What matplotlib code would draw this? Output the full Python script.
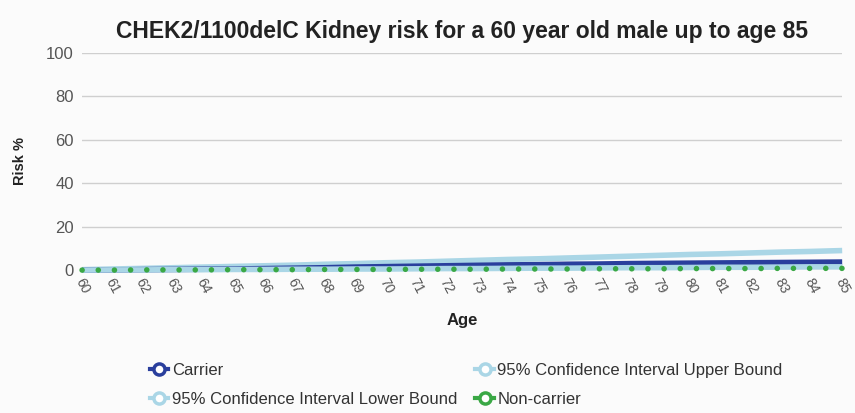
import numpy as np
import matplotlib.pyplot as plt
from matplotlib.lines import Line2D

plt.rcParams['font.family'] = ['Liberation Sans', 'DejaVu Sans']

ages = list(range(60, 86))
upper_bound = [0.2, 0.5, 0.8, 1.1, 1.4, 1.7, 2.0, 2.3, 2.7, 3.0, 3.4, 3.7, 4.1, 4.5, 4.9, 5.2,
               5.6, 6.0, 6.4, 6.8, 7.2, 7.5, 7.9, 8.3, 8.6, 9.0]
carrier = [0.0, 0.1, 0.2, 0.3, 0.4, 0.5, 0.7, 0.9, 1.1, 1.4, 1.6, 1.8, 2.0, 2.2, 2.4, 2.5,
           2.7, 2.8, 3.0, 3.1, 3.2, 3.3, 3.4, 3.5, 3.6, 3.7]
lower_bound = [0.0, 0.1, 0.1, 0.2, 0.2, 0.3, 0.3, 0.4, 0.4, 0.5, 0.5, 0.6, 0.7, 0.7, 0.8, 0.9,
               0.9, 1.0, 1.1, 1.1, 1.2, 1.3, 1.3, 1.4, 1.5, 1.5]
non_carrier = [0.0, 0.0, 0.1, 0.1, 0.1, 0.2, 0.2, 0.2, 0.3, 0.3, 0.3, 0.4, 0.4, 0.4, 0.5, 0.5,
               0.5, 0.6, 0.6, 0.6, 0.7, 0.7, 0.7, 0.8, 0.8, 0.8]
y_ticks = [0, 20, 40, 60, 80, 100]

c_carrier = '#2a3f9d'
c_ci = '#aad6e6'
c_non = '#3aa845'

fig = plt.figure(figsize=(8.55, 4.13), dpi=100)
fig.patch.set_facecolor('#fbfbfb')
ax = fig.add_axes([0.096, 0.346, 0.889, 0.526])
ax.set_facecolor('#fbfbfb')

ax.plot(ages, upper_bound, color=c_ci, lw=4, clip_on=False, solid_capstyle='butt')
ax.plot(ages, carrier, color=c_carrier, lw=4, clip_on=False, solid_capstyle='butt')
ax.plot(ages, lower_bound, color=c_ci, lw=4, clip_on=False, solid_capstyle='butt')
ax.plot(ages, non_carrier, color=c_non, lw=4, ls=(0, (0.01, 2.9)), dash_capstyle='round',
        clip_on=False)

ax.set_xlim(60, 85)
ax.set_ylim(0, 100)
ax.set_yticks(y_ticks)
ax.set_xticks(ages)
ax.set_xticklabels([str(a) for a in ages], rotation=-62, ha='center', va='top')
ax.tick_params(axis='x', length=0, pad=4, labelsize=10, labelcolor='#555555')
ax.tick_params(axis='y', length=0, pad=6, labelsize=12, labelcolor='#555555')
ax.grid(axis='y', color='#cfcfcf', lw=1)
for s in ax.spines.values():
    s.set_visible(False)

ax.set_title('CHEK2/1100delC Kidney risk for a 60 year old male up to age 85',
             fontsize=16.5, fontweight='bold', color='#222222', pad=11)
ax.set_xlabel('Age', fontsize=12, fontweight='bold', color='#222222', labelpad=12)
ax.set_ylabel('Risk %', fontsize=10.5, fontweight='bold', color='#222222', labelpad=14)

def h(c):
    return Line2D([], [], color=c, lw=3, marker='o', markersize=8,
                  markerfacecolor='white', markeredgewidth=2.5)

handles = [h(c_carrier), h(c_ci), h(c_ci), h(c_non)]
labels = ['Carrier', '95% Confidence Interval Lower Bound',
          '95% Confidence Interval Upper Bound', 'Non-carrier']
leg = fig.legend(handles, labels, ncol=2, loc='lower left', bbox_to_anchor=(0.158, -0.022),
                 frameon=False, fontsize=12, handlelength=1.1, handletextpad=0.2,
                 columnspacing=1.1, labelspacing=0.85)
for t in leg.get_texts():
    t.set_color('#333333')

plt.savefig('out.png', dpi=100, facecolor=fig.get_facecolor())
